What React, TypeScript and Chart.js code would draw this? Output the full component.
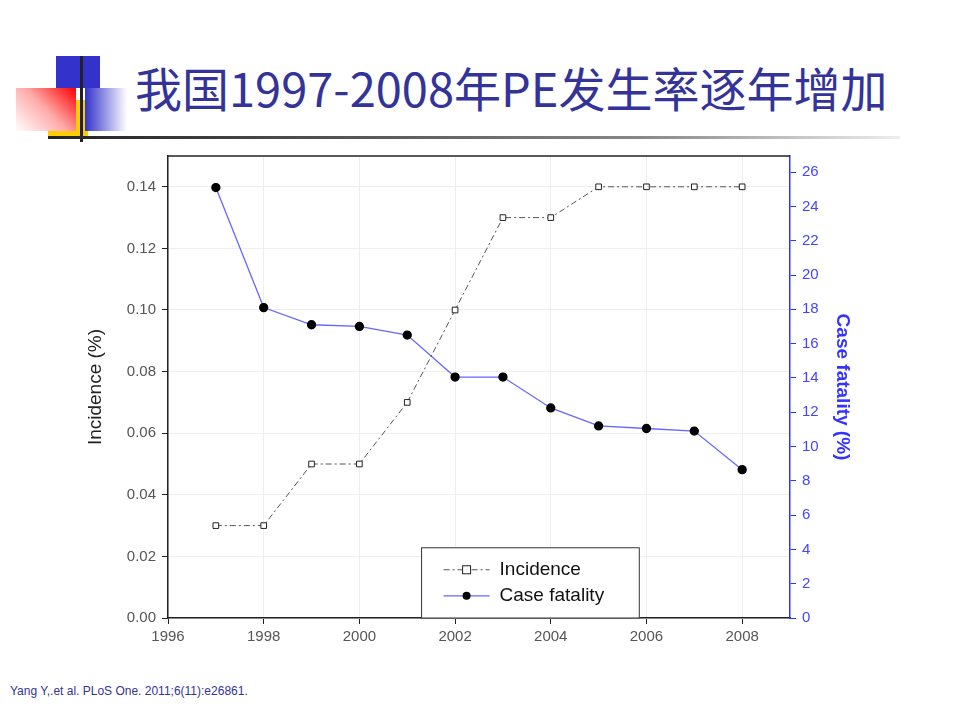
import React, { useEffect, useRef } from "react";
import { Chart, registerables } from "chart.js";
Chart.register(...registerables);

const years = [1997, 1998, 1999, 2000, 2001, 2002, 2003, 2004, 2005, 2006, 2007, 2008];
const incidence = [0.03, 0.03, 0.05, 0.05, 0.07, 0.1, 0.13, 0.13, 0.14, 0.14, 0.14, 0.14];
const caseFatality = [25.1, 18.1, 17.1, 17.0, 16.5, 14.05, 14.05, 12.25, 11.2, 11.05, 10.9, 8.65];
const xTicks = [1996, 1998, 2000, 2002, 2004, 2006, 2008];
const yLeftTicks = [0, 0.02, 0.04, 0.06, 0.08, 0.1, 0.12, 0.14];
const yRightTicks = [0, 2, 4, 6, 8, 10, 12, 14, 16, 18, 20, 22, 24, 26];

const FONT = "'Liberation Sans', Arial, sans-serif";

export default function App() {
  const ref = useRef<HTMLCanvasElement>(null);
  useEffect(() => {
    const legendPlugin = {
      id: "legendBox",
      afterDatasetsDraw(chart: any) {
        const ctx = chart.ctx;
        const a = chart.chartArea;
        const xs = chart.scales.x;
        const ys = chart.scales.y;
        ctx.save();
        ctx.strokeStyle = "#222";
        ctx.lineWidth = 1.5;
        ctx.beginPath(); ctx.moveTo(a.left, a.top); ctx.lineTo(a.right, a.top); ctx.stroke();
        const x0 = xs.getPixelForValue(2001.3);
        const x1 = xs.getPixelForValue(2005.85);
        const y0 = ys.getPixelForValue(0.0228);
        const y1 = ys.getPixelForValue(0);
        ctx.fillStyle = "#fff";
        ctx.fillRect(x0, y0, x1 - x0, y1 - y0);
        ctx.strokeStyle = "#333";
        ctx.lineWidth = 1;
        ctx.strokeRect(x0, y0, x1 - x0, y1 - y0);
        const r1 = y0 + 22, r2 = y0 + 48;
        ctx.strokeStyle = "#555";
        ctx.setLineDash([6, 3, 2, 3]);
        ctx.beginPath(); ctx.moveTo(x0 + 22, r1); ctx.lineTo(x0 + 68, r1); ctx.stroke();
        ctx.setLineDash([]);
        ctx.fillStyle = "#fff"; ctx.strokeStyle = "#222";
        ctx.fillRect(x0 + 41, r1 - 4, 8, 8); ctx.strokeRect(x0 + 41, r1 - 4, 8, 8);
        ctx.strokeStyle = "#6666ff"; ctx.lineWidth = 1.3;
        ctx.beginPath(); ctx.moveTo(x0 + 22, r2); ctx.lineTo(x0 + 68, r2); ctx.stroke();
        ctx.fillStyle = "#000";
        ctx.beginPath(); ctx.arc(x0 + 45, r2, 4, 0, Math.PI * 2); ctx.fill();
        ctx.fillStyle = "#111"; ctx.font = `19px ${FONT}`; ctx.textBaseline = "middle";
        ctx.fillText("Incidence", x0 + 78, r1);
        ctx.fillText("Case fatality", x0 + 78, r2);
        ctx.restore();
      },
    };
    const chart = new Chart(ref.current!, {
      type: "line",
      data: {
        datasets: [
          {
            label: "Incidence",
            data: years.map((y, i) => ({ x: y, y: incidence[i] })),
            yAxisID: "y",
            borderColor: "#555",
            borderWidth: 1,
            borderDash: [6, 3, 2, 3],
            pointStyle: "rect",
            pointRadius: 4,
            pointBackgroundColor: "#fff",
            pointBorderColor: "#222",
            pointBorderWidth: 1,
          },
          {
            label: "Case fatality",
            data: years.map((y, i) => ({ x: y, y: caseFatality[i] })),
            yAxisID: "y1",
            borderColor: "#6666ff",
            borderWidth: 1.3,
            pointRadius: 4,
            pointBackgroundColor: "#000",
            pointBorderColor: "#000",
          },
        ],
      },
      plugins: [legendPlugin],
      options: {
        animation: false,
        responsive: false,
        layout: { padding: { top: 16, left: 0, right: 0, bottom: 0 } },
        plugins: { legend: { display: false }, tooltip: { enabled: false } },
        scales: {
          x: {
            type: "linear",
            min: 1996,
            max: 2009,
            afterBuildTicks: (s: any) => { s.ticks = xTicks.map((v) => ({ value: v })); },
            afterFit: (s: any) => { s.height = 62; },
            ticks: { color: "#555", font: { family: FONT, size: 15 }, padding: 4, callback: (v: any) => String(v) },
            grid: { color: "#eee", tickColor: "#222", tickLength: 6 },
            border: { color: "#222", width: 1.5 },
          },
          y: {
            position: "left",
            min: 0,
            max: 0.15,
            afterBuildTicks: (s: any) => { s.ticks = yLeftTicks.map((v) => ({ value: v })); },
            afterFit: (s: any) => { s.width = 88; },
            ticks: { color: "#555", font: { family: FONT, size: 15 }, padding: 6, callback: (v: any) => Number(v).toFixed(2) },
            grid: { color: "#eee", tickColor: "#222", tickLength: 6 },
            border: { color: "#222", width: 1.5 },
            title: { display: true, text: "Incidence (%)", color: "#222", font: { family: FONT, size: 19 }, padding: 4 },
          },
          y1: {
            position: "right",
            min: 0,
            max: 26.94,
            afterBuildTicks: (s: any) => { s.ticks = yRightTicks.map((v) => ({ value: v })); },
            afterFit: (s: any) => { s.width = 66; },
            ticks: { color: "#4444ff", font: { family: FONT, size: 15 }, padding: 6 },
            grid: { drawOnChartArea: false, tickColor: "#3333ff", tickLength: 6 },
            border: { color: "#3333ff", width: 1.5 },
            title: { display: true, text: "Case fatality (%)", color: "#3333ff", font: { family: FONT, size: 19, weight: "bold" }, padding: 2 },
          },
        },
      },
    });
    return () => chart.destroy();
  }, []);

  return (
    <div style={{ position: "fixed", left: 0, top: 0, width: 960, height: 720, background: "#fff", overflow: "hidden" }}>
      <div style={{ position: "absolute", left: 56, top: 56, width: 44, height: 32, background: "#3333cc" }} />
      <div style={{ position: "absolute", left: 48, top: 100, width: 40, height: 37, background: "#ffcc00" }} />
      <div style={{ position: "absolute", left: 16, top: 88, width: 60, height: 43, background: "linear-gradient(225deg, #ff0000, #ffaaaa 50%, #ffffff)" }} />
      <div style={{ position: "absolute", left: 85, top: 88, width: 42, height: 43, background: "linear-gradient(90deg, #3333cc, #ffffff)" }} />
      <div style={{ position: "absolute", left: 80, top: 56, width: 3, height: 86, background: "#222" }} />
      <div style={{ position: "absolute", left: 48, top: 136, width: 852, height: 3, background: "linear-gradient(90deg, #222, #888 70%, #eee)" }} />
      <div style={{ position: "absolute", left: 135, top: 56, fontFamily: "'Noto Sans CJK SC', sans-serif", fontSize: 47, color: "#333399", lineHeight: "62px", whiteSpace: "nowrap" }}>
        我国1997-2008年PE发生率逐年增加
      </div>
      <canvas ref={ref} width={776} height={540} style={{ position: "absolute", left: 80, top: 140 }} />
      <div style={{ position: "absolute", left: 10, top: 684, fontFamily: FONT, fontSize: 12, color: "#333399" }}>
        Yang Y,.et al. PLoS One. 2011;6(11):e26861.
      </div>
    </div>
  );
}
